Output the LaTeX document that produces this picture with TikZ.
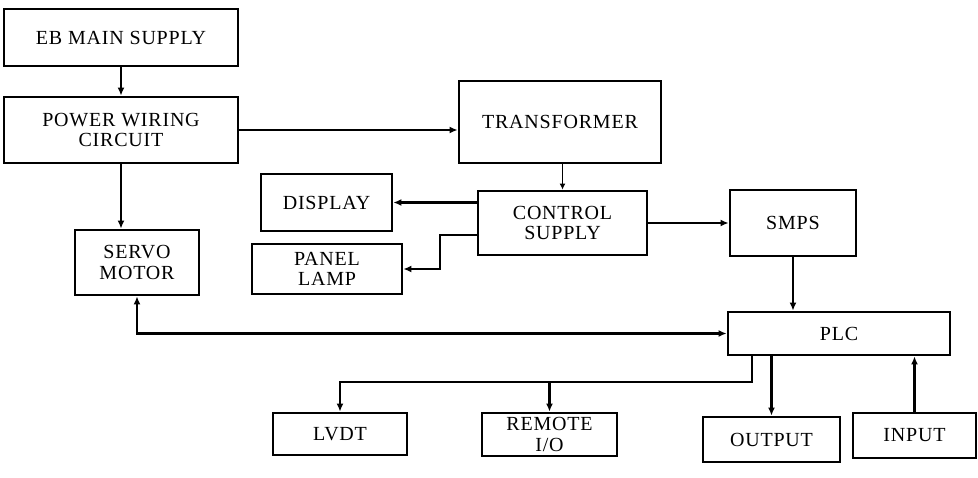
\documentclass[tikz,border=0pt]{standalone}
\usepackage{fontspec}
\setmainfont{Liberation Serif}[LetterSpace=4]
\usetikzlibrary{arrows.meta}
\begin{document}
\begin{tikzpicture}[x=1pt,y=-1pt,
  box/.style={draw, line width=2.8pt, inner sep=0pt, align=center,
    font=\fontsize{20}{20.5}\selectfont},
  arr/.style={line width=2.4pt, -{Latex[length=8pt,width=7pt]}},
  darr/.style={line width=2.4pt, {Latex[length=8pt,width=7pt]}-{Latex[length=8pt,width=7pt]}},
  thinarr/.style={line width=1.1pt, -{Latex[length=6pt,width=6pt]}}]
\useasboundingbox (0,0) rectangle (978,478);
\node[box, minimum width=234pt, minimum height=57pt] (eb) at (121,37.5) {EB MAIN SUPPLY};
\node[box, minimum width=234pt, minimum height=66pt] (power) at (121,130) {POWER WIRING\\CIRCUIT};
\node[box, minimum width=124pt, minimum height=65pt] (servo) at (137,262.5) {SERVO\\MOTOR};
\node[box, minimum width=202pt, minimum height=82pt] (trans) at (560,122) {TRANSFORMER};
\node[box, minimum width=131pt, minimum height=57pt] (display) at (326.5,202.5) {DISPLAY};
\node[box, minimum width=169pt, minimum height=64pt] (control) at (562.5,223) {CONTROL\\SUPPLY};
\node[box, minimum width=150pt, minimum height=50pt] (panel) at (327,269) {PANEL\\LAMP};
\node[box, minimum width=126pt, minimum height=66pt] (smps) at (793,223) {SMPS};
\node[box, minimum width=222pt, minimum height=43pt] (plc) at (839,333.5) {PLC};
\node[box, minimum width=134pt, minimum height=42pt] (lvdt) at (340,434) {LVDT};
\node[box, minimum width=135pt, minimum height=43pt] (remote) at (549.5,434.5) {REMOTE\\I/O};
\node[box, minimum width=137pt, minimum height=45pt] (output) at (771.5,439.5) {OUTPUT};
\node[box, minimum width=123pt, minimum height=45pt] (input) at (914.5,435.5) {INPUT};
\coordinate (cp) at (440,235);
\coordinate (bus) at (752,382);
\draw[arr] (eb.south) -- (power.north);
\draw[arr] (power.south) -- (power.south |- servo.north);
\draw[arr] (power.east) -- (power.east -| trans.west);
\draw[thinarr] (trans.south -| control.north) -- (control.north);
\draw[arr] (control.west |- display.east) -- (display.east);
\draw[arr] (control.west |- cp) -- (cp) -- (cp |- panel.east) -- (panel.east);
\draw[arr] (control.east) -- (smps.west);
\draw[arr] (smps.south) -- (smps.south |- plc.north);
\draw[darr] (servo.south) -- (servo.south |- plc.west) -- (plc.west);
\draw[arr] (plc.south -| bus) -- (bus) -- (bus -| lvdt.north) -- (lvdt.north);
\draw[arr] (remote.north |- bus) -- (remote.north);
\draw[arr] (output.north |- plc.south) -- (output.north);
\draw[arr] (input.north) -- (input.north |- plc.south);
\end{tikzpicture}
\end{document}
